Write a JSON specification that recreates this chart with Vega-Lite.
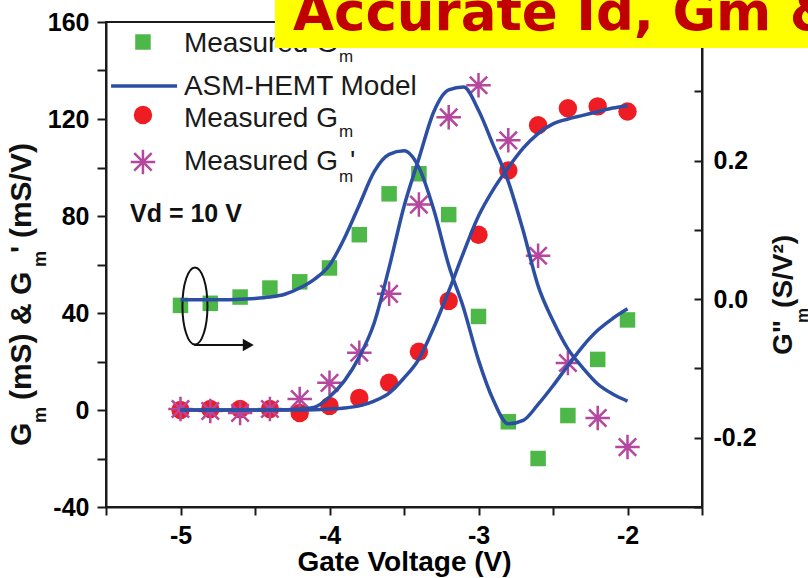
{
  "$schema": "https://vega.github.io/schema/vega-lite/v6.json",
  "width": 596,
  "height": 485,
  "autosize": {"type": "none"},
  "padding": {"left": 106, "top": 22, "right": 106, "bottom": 71},
  "background": "white",
  "config": {
    "view": {"stroke": "#1a1a1a", "strokeWidth": 2},
    "axis": {
      "labelFont": "Liberation Sans", "labelFontWeight": "bold", "labelFontSize": 25, "labelColor": "#000",
      "domainColor": "#1a1a1a", "domainWidth": 2, "tickColor": "#1a1a1a", "tickWidth": 2, "grid": false,
      "titleFont": "Liberation Sans", "titleFontWeight": "bold", "titleColor": "#000", "labelOverlap": false
    },
    "text": {"font": "Liberation Sans"}
  },
  "datasets": {
    "measured": [
      {"vg": -5.0, "gm": 0.0, "gm1": 0.4, "gm2": -0.009},
      {"vg": -4.8, "gm": 0.4, "gm1": -0.4, "gm2": -0.006},
      {"vg": -4.6, "gm": 0.4, "gm1": -1.2, "gm2": 0.003},
      {"vg": -4.4, "gm": 0.4, "gm1": 0.4, "gm2": 0.016},
      {"vg": -4.2, "gm": -1.2, "gm1": 4.5, "gm2": 0.025},
      {"vg": -4.0, "gm": 1.7, "gm1": 11.2, "gm2": 0.045},
      {"vg": -3.8, "gm": 5.0, "gm1": 23.6, "gm2": 0.093},
      {"vg": -3.6, "gm": 11.2, "gm1": 47.9, "gm2": 0.152},
      {"vg": -3.4, "gm": 24.0, "gm1": 84.7, "gm2": 0.181},
      {"vg": -3.2, "gm": 45.0, "gm1": 120.7, "gm2": 0.122},
      {"vg": -3.0, "gm": 72.3, "gm1": 133.9, "gm2": -0.025},
      {"vg": -2.8, "gm": 98.8, "gm1": 111.2, "gm2": -0.177},
      {"vg": -2.6, "gm": 117.4, "gm1": 63.6, "gm2": -0.230},
      {"vg": -2.4, "gm": 124.4, "gm1": 19.4, "gm2": -0.168},
      {"vg": -2.2, "gm": 125.2, "gm1": -3.3, "gm2": -0.087},
      {"vg": -2.0, "gm": 123.1, "gm1": -15.3, "gm2": -0.030}
    ],
    "model": [
      {"vg": -5.0, "gm": 0.0, "gm1": 0.0, "gm2": -0.001},
      {"vg": -4.9, "gm": 0.0, "gm1": 0.0, "gm2": -0.001},
      {"vg": -4.8, "gm": 0.0, "gm1": 0.0, "gm2": -0.001},
      {"vg": -4.7, "gm": 0.0, "gm1": 0.0, "gm2": -0.001},
      {"vg": -4.6, "gm": 0.0, "gm1": 0.0, "gm2": 0.0},
      {"vg": -4.5, "gm": 0.0, "gm1": 0.0, "gm2": 0.001},
      {"vg": -4.4, "gm": 0.0, "gm1": 0.0, "gm2": 0.003},
      {"vg": -4.3, "gm": 0.0, "gm1": 0.1, "gm2": 0.007},
      {"vg": -4.2, "gm": 0.0, "gm1": 0.4, "gm2": 0.016},
      {"vg": -4.1, "gm": 0.1, "gm1": 1.2, "gm2": 0.029},
      {"vg": -4.0, "gm": 0.4, "gm1": 5.4, "gm2": 0.049},
      {"vg": -3.9, "gm": 0.8, "gm1": 12.0, "gm2": 0.088},
      {"vg": -3.8, "gm": 1.7, "gm1": 21.9, "gm2": 0.136},
      {"vg": -3.7, "gm": 3.7, "gm1": 35.9, "gm2": 0.184},
      {"vg": -3.6, "gm": 7.0, "gm1": 58.7, "gm2": 0.209},
      {"vg": -3.5, "gm": 13.2, "gm1": 83.9, "gm2": 0.214},
      {"vg": -3.4, "gm": 21.0, "gm1": 103.7, "gm2": 0.190},
      {"vg": -3.3, "gm": 34.0, "gm1": 123.0, "gm2": 0.129},
      {"vg": -3.2, "gm": 49.0, "gm1": 132.0, "gm2": 0.049},
      {"vg": -3.1, "gm": 65.0, "gm1": 133.2, "gm2": -0.013},
      {"vg": -3.0, "gm": 80.0, "gm1": 123.6, "gm2": -0.088},
      {"vg": -2.9, "gm": 91.0, "gm1": 109.1, "gm2": -0.146},
      {"vg": -2.8, "gm": 100.0, "gm1": 94.2, "gm2": -0.180},
      {"vg": -2.7, "gm": 108.0, "gm1": 73.9, "gm2": -0.175},
      {"vg": -2.6, "gm": 114.0, "gm1": 51.2, "gm2": -0.152},
      {"vg": -2.5, "gm": 118.0, "gm1": 36.8, "gm2": -0.125},
      {"vg": -2.4, "gm": 120.0, "gm1": 25.2, "gm2": -0.096},
      {"vg": -2.3, "gm": 121.5, "gm1": 17.4, "gm2": -0.068},
      {"vg": -2.2, "gm": 123.0, "gm1": 10.7, "gm2": -0.045},
      {"vg": -2.1, "gm": 124.5, "gm1": 6.6, "gm2": -0.028},
      {"vg": -2.0, "gm": 125.5, "gm1": 3.7, "gm2": -0.014}
    ]
  },
  "layer": [
    {
      "data": {"name": "measured"},
      "mark": {"type": "point", "shape": "square", "filled": true, "size": 240, "color": "#4db848", "opacity": 1},
      "encoding": {
        "x": {"field": "vg", "type": "quantitative", "scale": {"domain": [-5.5, -1.5], "nice": false, "zero": false}, "axis": null},
        "y": {"field": "gm2", "type": "quantitative", "scale": {"domain": [-0.3, 0.4], "nice": false, "zero": false},
          "axis": {"orient": "right", "values": [-0.3, -0.2, -0.1, 0, 0.1, 0.2, 0.3], "tickSize": -8, "labelPadding": 19, "title": null,
            "labelExpr": "round(datum.value*10) % 2 == 0 ? replace(format(datum.value, '.1f'), '\u2212', '-') : ''"}}
      }
    },
    {
      "layer": [
        {
          "data": {"name": "measured"},
          "mark": {"type": "point", "shape": "circle", "filled": true, "size": 340, "color": "#ee1d24", "opacity": 1},
          "encoding": {
            "x": {"field": "vg", "type": "quantitative", "title": "Gate Voltage (V)", "scale": {"domain": [-5.5, -1.5], "nice": false, "zero": false},
              "axis": {"orient": "bottom", "values": [-5.5, -5, -4.5, -4, -3.5, -3, -2.5, -2, -1.5], "tickSize": 8, "labelPadding": 8,
                "titleFontSize": 28, "titleBaseline": "alphabetic", "titleY": 63,
                "labelExpr": "datum.value % 1 == 0 ? replace(format(datum.value, 'd'), '\u2212', '-') : ''"}},
            "y": {"field": "gm", "type": "quantitative", "title": null, "scale": {"domain": [-40, 160], "nice": false, "zero": false},
              "axis": {"orient": "left", "values": [-40, -20, 0, 20, 40, 60, 80, 100, 120, 140, 160], "tickSize": 9, "labelPadding": 8,
                "labelExpr": "datum.value % 40 == 0 ? replace(format(datum.value, 'd'), '\u2212', '-') : ''"}}
          }
        },
        {
          "data": {"name": "measured"},
          "mark": {"type": "point", "shape": "M-1,0L1,0M0,-1L0,1M-0.71,-0.71L0.71,0.71M-0.71,0.71L0.71,-0.71", "filled": false, "size": 600, "stroke": "#b5479f", "strokeWidth": 2.5, "opacity": 1},
          "encoding": {
            "x": {"field": "vg", "type": "quantitative", "title": "Gate Voltage (V)"},
            "y": {"field": "gm1", "type": "quantitative", "title": null}
          }
        },
        {
          "data": {"name": "model"},
          "mark": {"type": "line", "color": "#2c4fa3", "strokeWidth": 3.5, "interpolate": "monotone"},
          "encoding": {
            "x": {"field": "vg", "type": "quantitative", "title": "Gate Voltage (V)"},
            "y": {"field": "gm", "type": "quantitative", "title": null}
          }
        },
        {
          "data": {"name": "model"},
          "mark": {"type": "line", "color": "#2c4fa3", "strokeWidth": 3.5, "interpolate": "monotone"},
          "encoding": {
            "x": {"field": "vg", "type": "quantitative", "title": "Gate Voltage (V)"},
            "y": {"field": "gm1", "type": "quantitative", "title": null}
          }
        },
        {"data": {"values": [{}]}, "mark": {"type": "point", "shape": "square", "filled": true, "size": 240, "color": "#4db848", "opacity": 1},
         "encoding": {"x": {"datum": -5.252}, "y": {"datum": 151.75}}},
        {"data": {"values": [{}]}, "mark": {"type": "rule", "color": "#2c4fa3", "strokeWidth": 3.5},
         "encoding": {"x": {"datum": -5.466}, "x2": {"datum": -5.023}, "y": {"datum": 133.6}}},
        {"data": {"values": [{}]}, "mark": {"type": "point", "shape": "circle", "filled": true, "size": 340, "color": "#ee1d24", "opacity": 1},
         "encoding": {"x": {"datum": -5.252}, "y": {"datum": 121.65}}},
        {"data": {"values": [{}]}, "mark": {"type": "point", "shape": "M-1,0L1,0M0,-1L0,1M-0.71,-0.71L0.71,0.71M-0.71,0.71L0.71,-0.71", "filled": false, "size": 600, "stroke": "#b5479f", "strokeWidth": 2.5, "opacity": 1},
         "encoding": {"x": {"datum": -5.252}, "y": {"datum": 102.3}}},
        {"data": {"values": [{}]}, "mark": {"type": "text", "text": "Measured G", "fontSize": 28, "align": "left", "baseline": "alphabetic", "color": "#1a1a1a"},
         "encoding": {"x": {"datum": -4.977}, "y": {"datum": 147.6}}},
        {"data": {"values": [{}]}, "mark": {"type": "text", "text": "m", "fontSize": 17, "align": "left", "baseline": "alphabetic", "color": "#1a1a1a"},
         "encoding": {"x": {"datum": -3.936}, "y": {"datum": 143.5}}},
        {"data": {"values": [{}]}, "mark": {"type": "text", "text": "''", "fontSize": 28, "align": "left", "baseline": "alphabetic", "color": "#1a1a1a"},
         "encoding": {"x": {"datum": -3.862}, "y": {"datum": 147.6}}},
        {"data": {"values": [{}]}, "mark": {"type": "text", "text": "ASM-HEMT Model", "fontSize": 28, "align": "left", "baseline": "alphabetic", "color": "#1a1a1a"},
         "encoding": {"x": {"datum": -4.977}, "y": {"datum": 129.9}}},
        {"data": {"values": [{}]}, "mark": {"type": "text", "text": "Measured G", "fontSize": 28, "align": "left", "baseline": "alphabetic", "color": "#1a1a1a"},
         "encoding": {"x": {"datum": -4.977}, "y": {"datum": 116.7}}},
        {"data": {"values": [{}]}, "mark": {"type": "text", "text": "m", "fontSize": 17, "align": "left", "baseline": "alphabetic", "color": "#1a1a1a"},
         "encoding": {"x": {"datum": -3.936}, "y": {"datum": 112.6}}},
        {"data": {"values": [{}]}, "mark": {"type": "text", "text": "Measured G", "fontSize": 28, "align": "left", "baseline": "alphabetic", "color": "#1a1a1a"},
         "encoding": {"x": {"datum": -4.977}, "y": {"datum": 99.0}}},
        {"data": {"values": [{}]}, "mark": {"type": "text", "text": "m", "fontSize": 17, "align": "left", "baseline": "alphabetic", "color": "#1a1a1a"},
         "encoding": {"x": {"datum": -3.936}, "y": {"datum": 94.0}}},
        {"data": {"values": [{}]}, "mark": {"type": "text", "text": "'", "fontSize": 28, "align": "left", "baseline": "alphabetic", "color": "#1a1a1a"},
         "encoding": {"x": {"datum": -3.862}, "y": {"datum": 99.0}}},
        {"data": {"values": [{}]}, "mark": {"type": "text", "text": "Vd = 10 V", "fontSize": 25, "fontWeight": "bold", "align": "left", "baseline": "alphabetic", "color": "#111"},
         "encoding": {"x": {"datum": -5.339}, "y": {"datum": 77.5}}},
        {"data": {"values": [{}]}, "mark": {"type": "point", "shape": "M0,-1C0.1795,-1 0.325,-0.5523 0.325,0C0.325,0.5523 0.1795,1 0,1C-0.1795,1 -0.325,0.5523 -0.325,0C-0.325,-0.5523 -0.1795,-1 0,-1Z", "filled": false, "size": 5929, "stroke": "#111", "strokeWidth": 2, "opacity": 1},
         "encoding": {"x": {"datum": -4.903}, "y": {"datum": 42.9}}},
        {"data": {"values": [{}]}, "mark": {"type": "rule", "color": "#111", "strokeWidth": 2},
         "encoding": {"x": {"datum": -4.909}, "x2": {"datum": -4.56}, "y": {"datum": 26.8}}},
        {"data": {"values": [{}]}, "mark": {"type": "point", "shape": "triangle-right", "filled": true, "size": 160, "color": "#111", "opacity": 1},
         "encoding": {"x": {"datum": -4.545}, "y": {"datum": 26.8}}},
        {"data": {"values": [{}]}, "mark": {"type": "text", "text": "G", "fontSize": 30, "fontWeight": "bold", "angle": 270, "align": "left", "baseline": "alphabetic", "color": "#111"},
         "encoding": {"x": {"datum": -6.003}, "y": {"datum": -14.8}}},
        {"data": {"values": [{}]}, "mark": {"type": "text", "text": "m", "fontSize": 18, "fontWeight": "bold", "angle": 270, "align": "left", "baseline": "alphabetic", "color": "#111"},
         "encoding": {"x": {"datum": -5.903}, "y": {"datum": -5.4}}},
        {"data": {"values": [{}]}, "mark": {"type": "text", "text": "(mS) & G", "fontSize": 30, "fontWeight": "bold", "angle": 270, "align": "left", "baseline": "alphabetic", "color": "#111"},
         "encoding": {"x": {"datum": -6.003}, "y": {"datum": 4.1}}},
        {"data": {"values": [{}]}, "mark": {"type": "text", "text": "m", "fontSize": 18, "fontWeight": "bold", "angle": 270, "align": "left", "baseline": "alphabetic", "color": "#111"},
         "encoding": {"x": {"datum": -5.903}, "y": {"datum": 59.0}}},
        {"data": {"values": [{}]}, "mark": {"type": "text", "text": "'", "fontSize": 30, "fontWeight": "bold", "angle": 270, "align": "left", "baseline": "alphabetic", "color": "#111"},
         "encoding": {"x": {"datum": -6.003}, "y": {"datum": 64.7}}},
        {"data": {"values": [{}]}, "mark": {"type": "text", "text": "(mS/V)", "fontSize": 30, "fontWeight": "bold", "angle": 270, "align": "left", "baseline": "alphabetic", "color": "#111"},
         "encoding": {"x": {"datum": -6.003}, "y": {"datum": 70.9}}},
        {"data": {"values": [{}]}, "mark": {"type": "text", "text": "G\"", "fontSize": 28, "fontWeight": "bold", "angle": 270, "align": "left", "baseline": "alphabetic", "color": "#111"},
         "encoding": {"x": {"datum": -0.896}, "y": {"datum": 22.7}}},
        {"data": {"values": [{}]}, "mark": {"type": "text", "text": "m", "fontSize": 17, "fontWeight": "bold", "angle": 270, "align": "left", "baseline": "alphabetic", "color": "#111"},
         "encoding": {"x": {"datum": -0.789}, "y": {"datum": 35.9}}},
        {"data": {"values": [{}]}, "mark": {"type": "text", "text": "(S/V²)", "fontSize": 28, "fontWeight": "bold", "angle": 270, "align": "left", "baseline": "alphabetic", "color": "#111"},
         "encoding": {"x": {"datum": -0.896}, "y": {"datum": 42.1}}},
        {"data": {"values": [{}]}, "mark": {"type": "rect", "color": "#ffff00", "opacity": 1},
         "encoding": {"x": {"datum": -4.366}, "x2": {"datum": -0.789}, "y": {"datum": 169.07}, "y2": {"datum": 149.28}}},
        {"data": {"values": [{}]}, "mark": {"type": "text", "text": "Accurate Id, Gm &", "font": "DejaVu Sans", "fontSize": 53, "fontWeight": "bold", "align": "left", "baseline": "alphabetic", "color": "#c00000"},
         "encoding": {"x": {"datum": -4.245}, "y": {"datum": 156.7}}}
      ]
    },
    {
      "data": {"name": "model"},
      "mark": {"type": "line", "color": "#2c4fa3", "strokeWidth": 3.5, "interpolate": "monotone"},
      "encoding": {
        "x": {"field": "vg", "type": "quantitative", "scale": {"domain": [-5.5, -1.5], "nice": false, "zero": false}, "axis": null},
        "y": {"field": "gm2", "type": "quantitative", "scale": {"domain": [-0.3, 0.4], "nice": false, "zero": false}, "axis": null}
      }
    }
  ],
  "resolve": {"scale": {"x": "independent", "y": "independent"}, "axis": {"x": "independent", "y": "independent"}}
}
